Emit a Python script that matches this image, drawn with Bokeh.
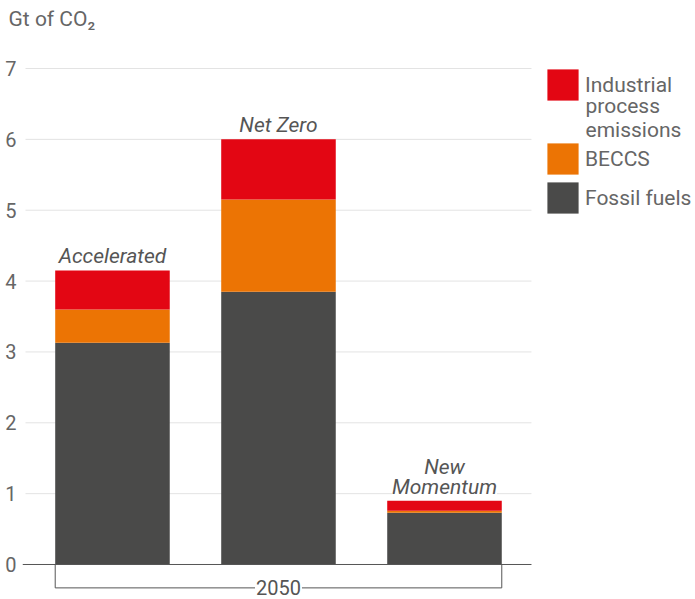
from bokeh.plotting import figure
from bokeh.models import (Range1d, FixedTicker, Legend, LegendItem, ColumnDataSource,
                          LabelSet, Label, Title)
from bokeh.core.properties import value
from bokeh.embed import file_html
from bokeh.resources import INLINE

# ---- data ----
scenarios = ["Accelerated", "Net Zero", "New\nMomentum"]
fossil = [3.13, 3.85, 0.73]
beccs = [0.47, 1.30, 0.03]
industrial = [0.55, 0.85, 0.14]
year_label = "2050"
y_ticks = [0, 1, 2, 3, 4, 5, 6, 7]
series_names = ["Fossil fuels", "BECCS", "Industrial"]
industrial_rest = "process\nemissions"
colors = ["#4a4a49", "#ec7404", "#e30613"]

FONT = "Roboto"
TXT = "#666666"
FS = "21px"
BAR_W = 0.69
X_LEFT, X_RIGHT = -0.542, 3.512      # frame extends under the legend
GRID_X0, GRID_X1 = -0.524, 2.524     # visible plotting area
LINE_H = 20

x = list(range(len(scenarios)))
totals = [f + b + i for f, b, i in zip(fossil, beccs, industrial)]
src = ColumnDataSource(dict(x=x, fossil=fossil, beccs=beccs, industrial=industrial))

# one row per text line, so that each line is centred on its bar
lx, ly, lt, loff = [], [], [], []
for xi, tot, name in zip(x, totals, scenarios):
    lines = name.split("\n")
    for k, line in enumerate(reversed(lines)):
        lx.append(xi)
        ly.append(tot)
        lt.append(line)
        loff.append(2 + k * LINE_H)
lab_src = ColumnDataSource(dict(x=lx, y=ly, text=lt, off=loff))

p = figure(width=695, height=599, output_backend="svg", toolbar_location=None,
           x_range=Range1d(X_LEFT, X_RIGHT), y_range=Range1d(-0.494, 7.466),
           min_border_left=22, min_border_right=0, min_border_top=35, min_border_bottom=0)
p.outline_line_color = None
p.title = Title(text="Gt of CO₂", text_font=FONT, text_font_size=FS,
                text_font_style="normal", text_color=TXT, offset=-14, standoff=6,
                vertical_align="top")

# grid lines limited to the plotting area
grid_y = [t for t in y_ticks if t != 0]
p.segment(x0=[GRID_X0] * len(grid_y), y0=grid_y, x1=[GRID_X1] * len(grid_y), y1=grid_y,
          line_color="#e3e3e3", line_width=1)

rs = p.vbar_stack(["fossil", "beccs", "industrial"], x="x", width=BAR_W, color=colors,
                  line_color=None, source=src)

# zero line
p.segment(x0=[X_LEFT], y0=[0], x1=[GRID_X1], y1=[0], line_color="#555555", line_width=1)

# axes
p.xaxis.visible = False
p.xgrid.visible = False
p.ygrid.visible = False
yax = p.yaxis[0]
yax.ticker = FixedTicker(ticks=y_ticks)
yax.axis_line_color = None
yax.major_tick_line_color = None
yax.minor_tick_line_color = None
yax.major_tick_out = 0
yax.major_tick_in = 0
yax.major_label_standoff = 6
yax.major_label_text_font = FONT
yax.major_label_text_font_size = "20px"
yax.major_label_text_color = TXT

# scenario labels
labels = LabelSet(x="x", y="y", text="text", y_offset="off", source=lab_src,
                  text_align="center", text_baseline="bottom", text_font=value(FONT),
                  text_font_size=value(FS), text_font_style=value("italic"),
                  text_color=value("#555555"), background_fill_color="white")
p.add_layout(labels)

# bracket under bars
by = -0.33
xl = x[0] - BAR_W / 2
xr = x[-1] + BAR_W / 2
p.segment(x0=[xl, xr, xl], y0=[0, 0, by], x1=[xl, xr, xr], y1=[by, by, by],
          line_color="#555555", line_width=1)
p.add_layout(Label(x=(xl + xr) / 2, y=by, text=year_label, text_align="center",
                   text_baseline="middle", text_font=FONT, text_font_size="20px",
                   text_color="#555555", background_fill_color="white",
                   padding=1))

common = dict(glyph_width=39, glyph_height=39, label_standoff=3, spacing=0, padding=0,
              margin=0, border_line_color=None, background_fill_alpha=0,
              label_text_font=FONT, label_text_font_size=FS, label_text_color=TXT,
              label_height=20)
legend_a = Legend(items=[LegendItem(label=series_names[2], renderers=[rs[2]])],
                  location=(521, 495), **common)
legend_b = Legend(items=[LegendItem(label=series_names[1], renderers=[rs[1]]),
                         LegendItem(label=series_names[0], renderers=[rs[0]])],
                  location=(521, 382), **common)
p.add_layout(legend_a)
p.add_layout(legend_b)
p.add_layout(Label(x=563, y=506, x_units="screen", y_units="screen", text=industrial_rest,
                   text_baseline="top", text_align="left", text_font=FONT,
                   text_font_size=FS, text_color=TXT, text_line_height=1.0))

open("out.html", "w").write(file_html(p, INLINE))
